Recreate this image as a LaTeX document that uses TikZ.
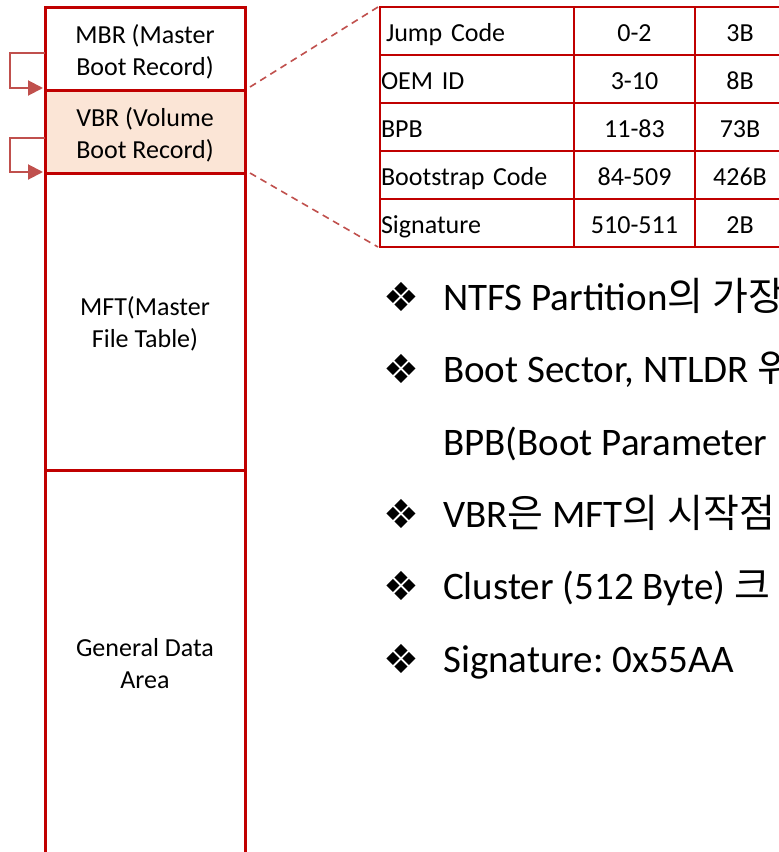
\documentclass[tikz,border=0pt]{standalone}
\usepackage{fontspec}
\setmainfont{Carlito}
\newfontfamily\krfont{Noto Sans CJK KR}
\newfontfamily\symfont{DejaVu Sans}
\newcommand\kr[1]{{\krfont #1}}
\usetikzlibrary{arrows.meta,calc}
\frenchspacing

\definecolor{boxred}{HTML}{C00000}
\definecolor{linkred}{HTML}{C0504D}
\definecolor{peach}{HTML}{FBE5D6}

\tikzset{
  seg/.style={rectangle, draw=boxred, line width=3pt, minimum width=200pt,
    inner sep=0pt, outer sep=0pt, anchor=north west},
  segtext/.style={font=\fontsize{26}{32}\selectfont, align=center, inner sep=0pt},
  cell/.style={rectangle, draw=boxred, line width=2.5pt, anchor=north west,
    outer sep=0pt, inner sep=0pt, minimum height=48pt,
    font=\fontsize{26}{32}\selectfont, text height=21pt, text depth=1pt},
  namecell/.style={cell, minimum width=194pt, text width=192pt, align=left},
  rangecell/.style={cell, minimum width=121pt},
  sizecell/.style={cell, minimum width=90pt},
  zoomline/.style={draw=linkred, line width=1.6pt, dash pattern=on 7pt off 5pt},
  feed/.style={draw=linkred, line width=2pt, -{Triangle[length=15pt,width=15pt]}},
  bul/.style={font=\symfont\fontsize{40}{46}\selectfont, anchor=base west, inner sep=0pt},
  btxt/.style={font=\fontsize{39}{47}\selectfont, anchor=base west, inner sep=0pt},
}

\begin{document}
\begin{tikzpicture}[x=1pt,y=-1pt]
\useasboundingbox (0,0) rectangle (779,852);
\clip (0,0) rectangle (779,852);

% volume layout column
\node[seg, minimum height=83pt] (mbr) at (45,7) {};
\node[seg, minimum height=83pt, fill=peach] (vbr) at (45,90) {};
\node[seg, minimum height=297pt] (mft) at (45,173) {};
\node[seg, minimum height=400pt] (gda) at (45,470) {};

\node[segtext] (mbrtxt) at (145,51.5) {MBR (Master\\Boot Record)};
\node[segtext] (vbrtxt) at (145,134.5) {VBR (Volume\\Boot Record)};
\node[segtext] (mfttxt) at (145,324) {MFT(Master\\File Table)};
\node[segtext] (gdatxt) at (145,664) {General Data\\Area};

% boot chain arrows
\draw[feed] ($(mbr.west)+(0,4)$) -- ++(-35,0) |- ($(vbr.north west)+(-2,-2)$);
\draw[feed] ($(vbr.west)+(0,6)$) -- ++(-35,0) |- ($(mft.north west)+(-2,-1)$);

% VBR structure table
\node[namecell] (n1) at (380,7)   {\hspace*{5pt}Jump Code};
\node[namecell] (n2) at (380,55)  {OEM ID};
\node[namecell] (n3) at (380,103) {BPB};
\node[namecell] (n4) at (380,151) {Bootstrap Code};
\node[namecell] (n5) at (380,199) {Signature};

\node[rangecell] (r1) at (574,7)   {0-2};
\node[rangecell] (r2) at (574,55)  {3-10};
\node[rangecell] (r3) at (574,103) {11-83};
\node[rangecell] (r4) at (574,151) {84-509};
\node[rangecell] (r5) at (574,199) {510-511};

\node[sizecell] (s1) at (695,7)   {3B};
\node[sizecell] (s2) at (695,55)  {8B};
\node[sizecell] (s3) at (695,103) {73B};
\node[sizecell] (s4) at (695,151) {426B};
\node[sizecell] (s5) at (695,199) {2B};

% zoom-out guides from the VBR to the table
\draw[zoomline] ($(mbr.south east)+(5,-3)$) -- ($(n1.north west)+(-2,0)$);
\draw[zoomline] ($(vbr.south east)+(5,0)$) -- ($(n5.south west)+(-2,0)$);

% notes
\node[bul]  (b1) at (383,311) {❖};
\node[btxt] (t1) at (443,310) {NTFS Partition\kr{의 가장}};
\node[bul]  (b2) at (383,383.5) {❖};
\node[btxt] (t2) at (443,382.5) {Boot Sector, NTLDR \kr{위}};
\node[btxt] (t3) at (443,455) {BPB(Boot Parameter};
\node[bul]  (b4) at (383,528) {❖};
\node[btxt] (t4) at (443,527) {VBR\kr{은} MFT\kr{의 시작점}};
\node[bul]  (b5) at (383,600.5) {❖};
\node[btxt] (t5) at (443,599.5) {Cluster (512 Byte) \kr{크}};
\node[bul]  (b6) at (383,673) {❖};
\node[btxt] (t6) at (443,672) {Signature: 0x55AA};
\end{tikzpicture}
\end{document}
